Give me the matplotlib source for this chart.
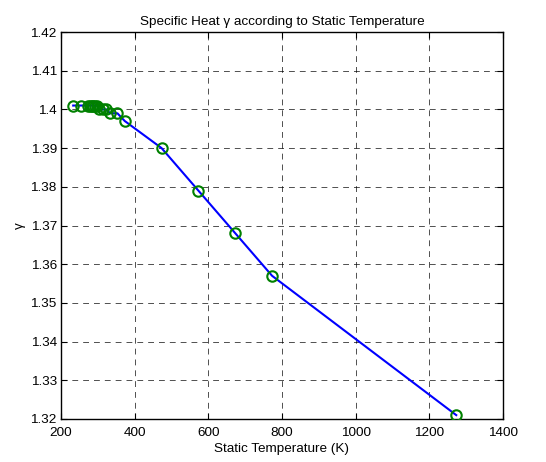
import numpy as np
import matplotlib
matplotlib.use("Agg")
import matplotlib.pyplot as plt

# air: temperature in deg C and specific heat ratio
temp_c = [-40, -20, 0, 5, 10, 15, 20, 25, 30, 40, 50, 60, 80, 100, 200, 300, 400, 500, 1000]
gamma = [1.401, 1.401, 1.401, 1.401, 1.401, 1.401, 1.401, 1.401, 1.400, 1.400,
         1.400, 1.399, 1.399, 1.397, 1.390, 1.379, 1.368, 1.357, 1.321]
temp_k = np.array(temp_c) + 273.15

xticks = [200, 400, 600, 800, 1000, 1200, 1400]
yticks = [1.32, 1.33, 1.34, 1.35, 1.36, 1.37, 1.38, 1.39, 1.40, 1.41, 1.42]
ytick_labels = ["1.32", "1.33", "1.34", "1.35", "1.36", "1.37", "1.38", "1.39", "1.4", "1.41", "1.42"]

plt.rcParams["font.family"] = ["Liberation Sans", "DejaVu Sans"]
plt.rcParams["font.size"] = 9.7

fig = plt.figure(figsize=(5.46, 4.62), dpi=100)
ax = fig.add_axes([0.1117, 0.0931, 0.8095, 0.8376])

ax.plot(temp_k, gamma, color="#0000ff", lw=1.5, zorder=3)
ax.plot(temp_k, gamma, ls="none", marker="o", ms=7.5, mfc="none", mec="#008000", mew=1.5, zorder=4)

ax.set_xlim(200, 1400)
ax.set_ylim(1.32, 1.42)
ax.set_xticks(xticks)
ax.set_yticks(yticks)
ax.set_yticklabels(ytick_labels)
ax.tick_params(direction="in", top=True, right=True, length=4, width=0.8, colors="black")
ax.tick_params(axis="x", pad=6)
ax.tick_params(axis="y", pad=3)
ax.grid(True, color="black", ls=(0, (7, 6)), lw=0.6, alpha=0.8)
for sp in ax.spines.values():
    sp.set_linewidth(1.0)

ax.set_title("Specific Heat \u03b3 according to Static Temperature", fontsize=9.7, pad=5)
ax.set_xlabel("Static Temperature (K)", labelpad=3)
ax.set_ylabel("\u03b3", labelpad=3)

fig.savefig("out.png", dpi=100)
